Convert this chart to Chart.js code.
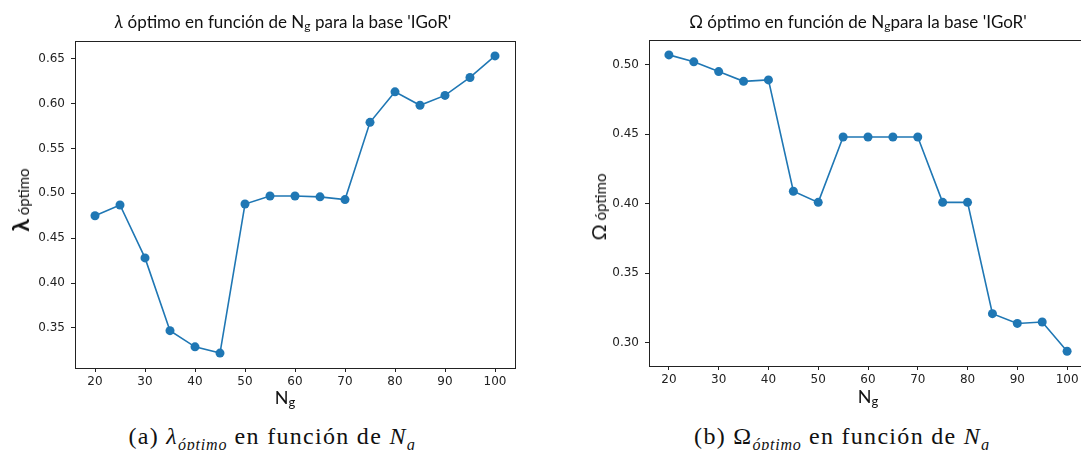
<!DOCTYPE html>
<html>
<head>
<meta charset="utf-8">
<script src="https://cdn.jsdelivr.net/npm/chart.js@4.4.1/dist/chart.umd.min.js"></script>
<style>
  html, body { margin: 0; padding: 0; background: #fff; }
  #wrap { position: relative; width: 1081px; height: 450px; overflow: hidden; background: #fff; }
  canvas { position: absolute; top: 0; }
  .t { position: absolute; white-space: nowrap; color: #111; }
  .title { font-family: Lato, "Open Sans", sans-serif; font-size: 17px; transform: translate(-50%, -50%); }
  .title sub { font-size: 12px; vertical-align: -2px; line-height: 0; }
  .xl { font-family: Lato, "Open Sans", sans-serif; font-size: 18px; transform: translate(-50%, -50%); }
  .xl sub { font-size: 13px; vertical-align: -3px; line-height: 0; }
  .yl { font-family: Lato, "Open Sans", sans-serif; font-size: 15px; transform: translate(-50%, -50%) rotate(-90deg); }
  .yl b { font-size: 23px; font-weight: bold; }
  .yl span.big { font-size: 20px; }
  .cap { font-family: "Liberation Serif", "DejaVu Serif", serif; font-size: 24px; letter-spacing: 1.3px; transform: translate(-50%, -50%); color: #111; }
  .cap sub { font-size: 16px; vertical-align: -6px; line-height: 0; letter-spacing: 0.8px; }
</style>
</head>
<body>
<div id="wrap">
  <canvas id="c1" width="540" height="400" style="left:0px"></canvas>
  <canvas id="c2" width="560" height="400" style="left:540px"></canvas>

  <div class="t title" style="left:283px; top:21px;"><i>λ</i> óptimo en función de N<sub>g</sub> para la base 'IGoR'</div>
  <div class="t title" style="left:858px; top:21px;">Ω óptimo en función de N<sub>g</sub>para la base 'IGoR'</div>

  <div class="t yl" style="left:20px; top:200px;"><b>λ</b> óptimo</div>
  <div class="t yl" style="left:598px; top:207px;"><span class="big">Ω</span> óptimo</div>

  <div class="t xl" style="left:285px; top:397px;">N<sub>g</sub></div>
  <div class="t xl" style="left:868px; top:396px;">N<sub>g</sub></div>

  <div class="t cap" style="left:272px; top:436px;">(a) <i>λ</i><sub><i>óptimo</i></sub> en función de <i>N</i><sub><i>g</i></sub></div>
  <div class="t cap" style="left:842px; top:436px;">(b) Ω<sub><i>óptimo</i></sub> en función de <i>N</i><sub><i>g</i></sub></div>
</div>
<script>
// ---- data ----
const ngValues = [20, 25, 30, 35, 40, 45, 50, 55, 60, 65, 70, 75, 80, 85, 90, 95, 100];
const lambdaOptimo = [0.475, 0.487, 0.428, 0.347, 0.329, 0.322, 0.488, 0.497, 0.497, 0.496, 0.493, 0.579, 0.613, 0.598, 0.609, 0.629, 0.653];
const omegaOptimo = [0.507, 0.502, 0.495, 0.488, 0.489, 0.409, 0.401, 0.448, 0.448, 0.448, 0.448, 0.401, 0.401, 0.321, 0.314, 0.315, 0.294];
const xTickValues = [20, 30, 40, 50, 60, 70, 80, 90, 100];
const lambdaTicks = [0.35, 0.40, 0.45, 0.50, 0.55, 0.60, 0.65];
const omegaTicks = [0.30, 0.35, 0.40, 0.45, 0.50];

const BLUE = '#1f77b4';
const AX = '#222';
const TICKFONT = { family: "'DejaVu Sans', sans-serif", size: 12 };

const frame = {
  id: 'frame',
  afterDraw(chart) {
    const a = chart.chartArea, ctx = chart.ctx;
    ctx.save();
    ctx.strokeStyle = AX;
    ctx.lineWidth = 1;
    ctx.strokeRect(Math.round(a.left) + 0.5, Math.round(a.top) + 0.5, Math.round(a.right - a.left), Math.round(a.bottom - a.top));
    ctx.restore();
  }
};

function makeChart(id, values, yTicks, yMin, yMax, pad, yWidth, xHeight) {
  const pts = ngValues.map((x, i) => ({ x: x, y: values[i] }));
  return new Chart(document.getElementById(id), {
    type: 'line',
    data: { datasets: [{
      data: pts,
      borderColor: BLUE,
      backgroundColor: BLUE,
      borderWidth: 1.6,
      pointRadius: 4.5,
      pointBorderWidth: 0,
      pointBackgroundColor: BLUE,
      tension: 0,
      clip: false
    }]},
    options: {
      responsive: false,
      animation: false,
      devicePixelRatio: 1,
      layout: { padding: pad },
      plugins: { legend: { display: false }, tooltip: { enabled: false } },
      scales: {
        x: {
          type: 'linear', min: 16, max: 104,
          afterBuildTicks: s => { s.ticks = xTickValues.map(v => ({ value: v })); },
          afterFit: s => { s.height = xHeight; },
          ticks: { color: '#222', font: TICKFONT, padding: 3, maxRotation: 0, callback: v => String(v) },
          grid: { drawOnChartArea: false, drawTicks: true, tickLength: 4, color: AX },
          border: { display: true, color: AX, width: 1 }
        },
        y: {
          type: 'linear', min: yMin, max: yMax,
          afterBuildTicks: s => { s.ticks = yTicks.map(v => ({ value: v })); },
          afterFit: s => { s.width = yWidth; },
          ticks: { color: '#222', font: TICKFONT, padding: 6, callback: v => Number(v).toFixed(2) },
          grid: { drawOnChartArea: false, drawTicks: true, tickLength: 4, color: AX },
          border: { display: true, color: AX, width: 1 }
        }
      }
    },
    plugins: [frame]
  });
}

makeChart('c1', lambdaOptimo, lambdaTicks, 0.3054, 0.6696, { top: 41, right: 25, left: 0, bottom: 0 }, 75, 32);
makeChart('c2', omegaOptimo, omegaTicks, 0.2834, 0.5177, { top: 40, right: 13, left: 34, bottom: 0 }, 75, 34);
</script>
</body>
</html>
